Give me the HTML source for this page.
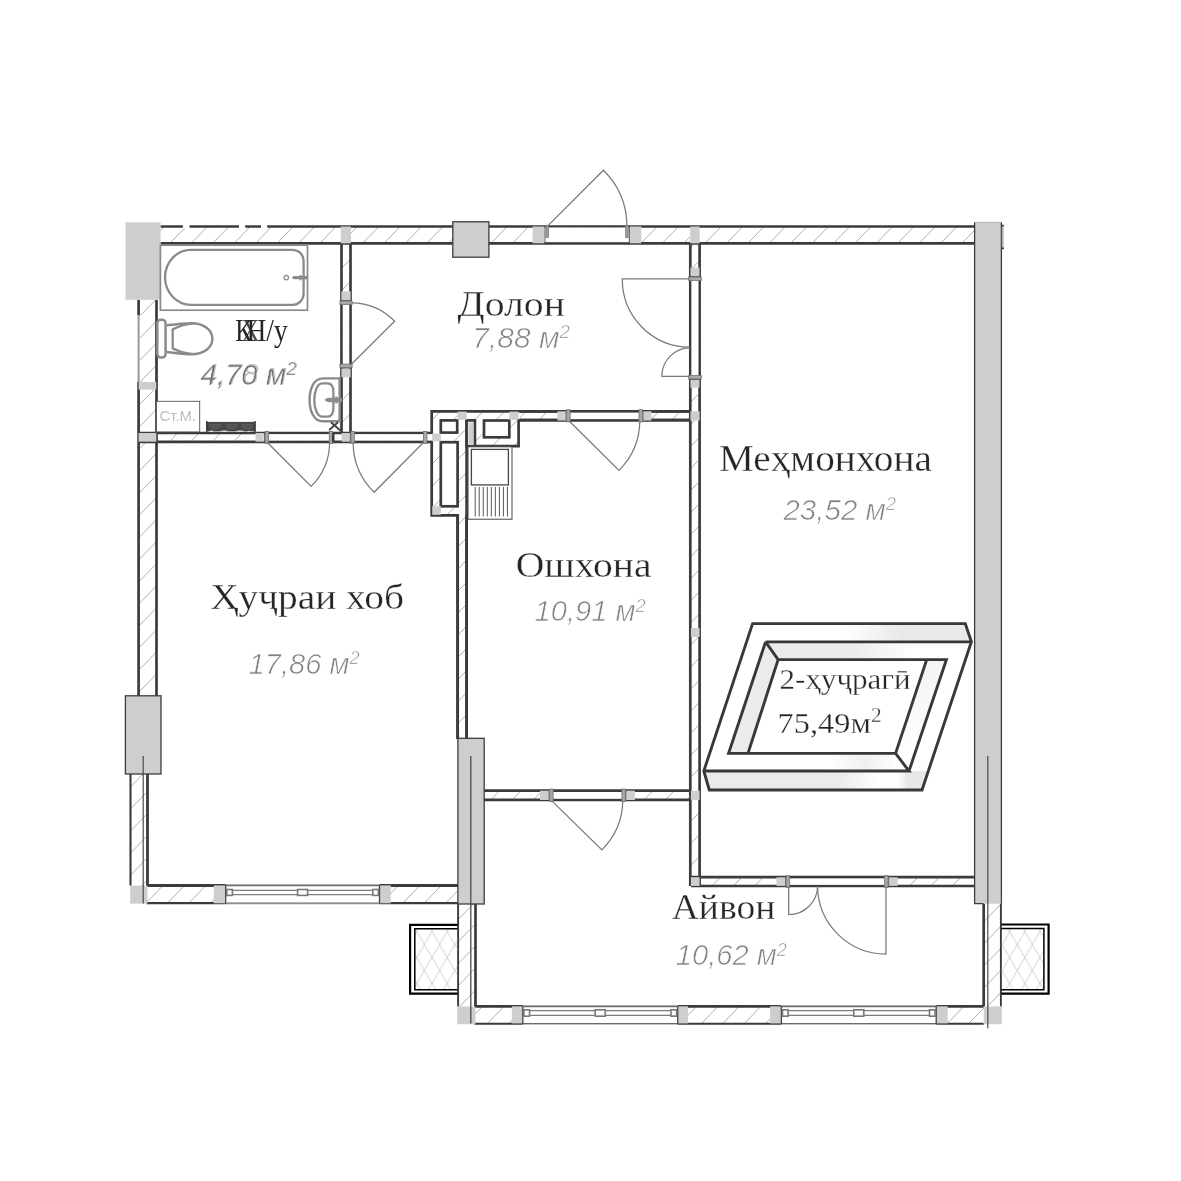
<!DOCTYPE html>
<html lang="tg"><head><meta charset="utf-8"><title>2-ҳуҷрагӣ 75,49 м²</title>
<style>
html,body{margin:0;padding:0;background:#fff}
body{width:1181px;height:1181px;overflow:hidden}
svg{display:block;filter:grayscale(1)}
.s{font-family:"Liberation Serif","DejaVu Serif",serif;fill:#262626;stroke:#fff;stroke-width:0.3px}
.a{font-family:"Liberation Sans","DejaVu Sans",sans-serif;font-style:italic;fill:#808080;stroke:#fff;stroke-width:0.7px}
</style></head><body>
<svg width="1181" height="1181" viewBox="0 0 1181 1181">
<defs>
<pattern id="dm" patternUnits="userSpaceOnUse" width="15.2" height="26" x="432" y="957.5">
<path d="M0 0L15.2 26M15.2 0L0 26" stroke="#bcbcbc" stroke-width="0.7" fill="none"/>
</pattern>
</defs>
<rect width="1181" height="1181" fill="#fff"/>

<path d="M160.5 231.0L164.8 226.5M169.9 243.3L186.2 226.5M191.3 243.3L207.6 226.5M212.7 243.3L229.0 226.5M234.2 243.3L250.4 226.5M255.6 243.3L271.9 226.5M277.0 243.3L293.3 226.5M298.4 243.3L314.7 226.5M319.8 243.3L336.1 226.5M341.2 243.3L357.5 226.5M362.6 243.3L378.9 226.5M384.0 243.3L400.3 226.5M405.4 243.3L421.7 226.5M426.8 243.3L443.1 226.5M448.2 243.3L464.5 226.5M469.6 243.3L485.9 226.5M491.0 243.3L507.3 226.5M512.4 243.3L528.7 226.5M533.8 243.3L550.1 226.5M555.2 243.3L571.5 226.5M576.7 243.3L592.9 226.5M598.1 243.3L614.4 226.5M619.5 243.3L635.8 226.5M640.9 243.3L657.2 226.5M662.3 243.3L678.6 226.5M683.7 243.3L700.0 226.5M705.1 243.3L721.4 226.5M726.5 243.3L742.8 226.5M747.9 243.3L764.2 226.5M769.3 243.3L785.6 226.5M790.7 243.3L807.0 226.5M812.1 243.3L828.4 226.5M833.5 243.3L849.8 226.5M854.9 243.3L871.2 226.5M876.3 243.3L892.6 226.5M897.7 243.3L914.0 226.5M919.2 243.3L935.5 226.5M940.6 243.3L956.9 226.5M962.0 243.3L974.5 230.4" stroke="#858585" stroke-width="0.65" fill="none"/>
<path d="M160.5 226.5H974.5" stroke="#3b3b3b" stroke-width="2.7" fill="none"/><path d="M160.5 243.3H974.5" stroke="#3b3b3b" stroke-width="2.7" fill="none"/>
<path d="M182.9 226.5H189.5M239 226.5H245.2M261 226.5H267.2" stroke="#fff" stroke-width="3.4"/>
<rect x="544.3" y="227.6" width="85.6" height="14.6" fill="#fff"/>
<path d="M544.9 226.5V243.3M629.3 226.5V243.3" stroke="#444" stroke-width="1" fill="none" />
<path d="M138.6 317.3L155.4 300.0M138.6 339.4L156.5 320.9M138.6 361.5L156.5 343.0M138.6 383.5L156.5 365.1M138.6 405.6L156.5 387.1M138.6 427.7L156.5 409.2M138.6 449.7L156.5 431.3M138.6 471.8L156.5 453.3M138.6 493.9L156.5 475.4M138.6 515.9L156.5 497.5M138.6 538.0L156.5 519.6M138.6 560.1L156.5 541.6M138.6 582.2L156.5 563.7M138.6 604.2L156.5 585.8M138.6 626.3L156.5 607.8M138.6 648.4L156.5 629.9M138.6 670.4L156.5 652.0M138.6 692.5L156.5 674.0" stroke="#858585" stroke-width="0.65" fill="none"/>
<path d="M138.6 300V696" stroke="#3b3b3b" stroke-width="2.7" fill="none"/><path d="M156.5 300V696" stroke="#3b3b3b" stroke-width="2.7" fill="none"/>
<path d="M138.6 315V382" stroke="#fff" stroke-width="3.2" fill="none" />
<path d="M138.6 315V382" stroke="#9c9c9c" stroke-width="2.1" fill="none" />
<path d="M341.5 246.4L344.5 243.3M341.5 268.5L350.5 259.2M341.5 290.6L350.5 281.3M341.5 312.7L350.5 303.4M341.5 334.7L350.5 325.4M341.5 356.8L350.5 347.5M341.5 378.9L350.5 369.6M341.5 400.9L350.5 391.7M341.5 423.0L350.5 413.7" stroke="#858585" stroke-width="0.65" fill="none"/>
<path d="M341.5 243.3V433" stroke="#3b3b3b" stroke-width="2.7" fill="none"/><path d="M350.5 243.3V433" stroke="#3b3b3b" stroke-width="2.7" fill="none"/>
<path d="M147.7 441.9L156.3 433.0M169.1 441.9L177.7 433.0M190.5 441.9L199.2 433.0M211.9 441.9L220.6 433.0M233.3 441.9L242.0 433.0M254.7 441.9L263.4 433.0M276.1 441.9L284.8 433.0M297.6 441.9L306.2 433.0M319.0 441.9L327.6 433.0M340.4 441.9L349.0 433.0M361.8 441.9L370.4 433.0M383.2 441.9L391.8 433.0M404.6 441.9L413.2 433.0M426.0 441.9L432.0 435.7" stroke="#858585" stroke-width="0.65" fill="none"/>
<path d="M138.6 433H432" stroke="#3b3b3b" stroke-width="2.7" fill="none"/><path d="M138.6 441.9H432" stroke="#3b3b3b" stroke-width="2.7" fill="none"/>
<path d="M690.3 248.1L694.9 243.3M690.3 270.1L699.6 260.6M690.3 292.2L699.6 282.6M690.3 314.3L699.6 304.7M690.3 336.4L699.6 326.8M690.3 358.4L699.6 348.8M690.3 380.5L699.6 370.9M690.3 402.6L699.6 393.0M690.3 424.6L699.6 415.0M690.3 446.7L699.6 437.1M690.3 468.8L699.6 459.2M690.3 490.8L699.6 481.3M690.3 512.9L699.6 503.3M690.3 535.0L699.6 525.4M690.3 557.1L699.6 547.5M690.3 579.1L699.6 569.5M690.3 601.2L699.6 591.6M690.3 623.3L699.6 613.7M690.3 645.3L699.6 635.7M690.3 667.4L699.6 657.8M690.3 689.5L699.6 679.9M690.3 711.5L699.6 702.0M690.3 733.6L699.6 724.0M690.3 755.7L699.6 746.1M690.3 777.8L699.6 768.2M690.3 799.8L699.6 790.2M690.3 821.9L699.6 812.3M690.3 844.0L699.6 834.4M690.3 866.0L699.6 856.4M692.3 886.0L699.6 878.5" stroke="#858585" stroke-width="0.65" fill="none"/>
<path d="M690.3 243.3V886" stroke="#3b3b3b" stroke-width="2.7" fill="none"/><path d="M699.6 243.3V886" stroke="#3b3b3b" stroke-width="2.7" fill="none"/>
<path d="M431.8 420.2L440.3 411.4M453.2 420.2L461.7 411.4M474.6 420.2L483.1 411.4M496.0 420.2L504.5 411.4M517.4 420.2L525.9 411.4M538.8 420.2L547.3 411.4" stroke="#858585" stroke-width="0.65" fill="none"/>
<path d="M651.5 419.0L658.9 411.4M671.7 420.2L680.3 411.4" stroke="#858585" stroke-width="0.65" fill="none"/>
<path d="M431.7 411.4H690" stroke="#3b3b3b" stroke-width="2.7" fill="none"/><path d="M431.7 420.2H690" stroke="#3b3b3b" stroke-width="2.7" fill="none"/>
<path d="M457.6 525.2L466.6 516.0M457.6 547.3L466.6 538.0M457.6 569.4L466.6 560.1M457.6 591.5L466.6 582.2M457.6 613.5L466.6 604.2M457.6 635.6L466.6 626.3M457.6 657.7L466.6 648.4M457.6 679.7L466.6 670.5M457.6 701.8L466.6 692.5M457.6 723.9L466.6 714.6M464.3 739.0L466.6 736.7" stroke="#858585" stroke-width="0.65" fill="none"/>
<path d="M457.6 515V739" stroke="#3b3b3b" stroke-width="2.7" fill="none"/><path d="M466.6 515V739" stroke="#3b3b3b" stroke-width="2.7" fill="none"/>
<path d="M490.7 799.9L499.6 790.7M512.1 799.9L521.0 790.7M533.5 799.9L540.0 793.2" stroke="#858585" stroke-width="0.65" fill="none"/>
<path d="M644.0 799.9L653.0 790.7M665.4 799.9L674.4 790.7M686.8 799.9L691.0 795.6" stroke="#858585" stroke-width="0.65" fill="none"/>
<path d="M484 790.7H691" stroke="#3b3b3b" stroke-width="2.7" fill="none"/><path d="M484 799.9H691" stroke="#3b3b3b" stroke-width="2.7" fill="none"/>
<path d="M711.8 886.0L720.4 877.2M733.2 886.0L741.8 877.2M754.6 886.0L763.2 877.2M776.1 886.0L776.5 885.5" stroke="#858585" stroke-width="0.65" fill="none"/>
<path d="M909.4 886.0L917.9 877.2M930.8 886.0L939.4 877.2M952.2 886.0L960.8 877.2M973.6 886.0L975.0 884.6" stroke="#858585" stroke-width="0.65" fill="none"/>
<path d="M691 877.2H975" stroke="#3b3b3b" stroke-width="2.7" fill="none"/><path d="M691 886H975" stroke="#3b3b3b" stroke-width="2.7" fill="none"/>
<path d="M146.2 902.9L163.0 885.5M167.4 903.1L184.5 885.5M188.8 903.1L205.9 885.5M210.2 903.1L227.3 885.5M231.6 903.1L248.7 885.5M253.0 903.1L270.1 885.5M274.4 903.1L291.5 885.5M295.8 903.1L312.9 885.5M317.2 903.1L334.3 885.5M338.6 903.1L355.7 885.5M360.0 903.1L377.1 885.5M381.4 903.1L398.5 885.5M402.9 903.1L419.9 885.5M424.3 903.1L441.3 885.5M445.7 903.1L458.0 890.4" stroke="#858585" stroke-width="0.65" fill="none"/>
<path d="M146.2 885.5H458" stroke="#3b3b3b" stroke-width="2.8" fill="none"/><path d="M146.2 903.1H458" stroke="#3b3b3b" stroke-width="2.1" fill="none"/>
<path d="M130.5 786.9L143.0 774.0M130.5 809.0L147.5 791.4M130.5 831.0L147.5 813.5M130.5 853.1L147.5 835.6M130.5 875.2L147.5 857.6M141.8 885.6L147.5 879.7" stroke="#858585" stroke-width="0.65" fill="none"/>
<path d="M130.5 774V885.6" stroke="#3b3b3b" stroke-width="2.1" fill="none"/><path d="M147.5 774V885.6" stroke="#3b3b3b" stroke-width="2.8" fill="none"/>
<path d="M458.1 919.6L473.5 903.8M458.1 941.7L475.5 923.8M458.1 963.8L475.5 945.8M458.1 985.8L475.5 967.9M459.5 1006.5L475.5 990.0" stroke="#858585" stroke-width="0.65" fill="none"/>
<path d="M458.1 903.8V1006.5" stroke="#3b3b3b" stroke-width="1.9" fill="none"/><path d="M475.5 903.8V1006.5" stroke="#3b3b3b" stroke-width="2.7" fill="none"/>
<path d="M474.2 1015.0L482.6 1006.4M487.2 1023.7L504.0 1006.4M508.6 1023.7L525.4 1006.4M530.0 1023.7L546.8 1006.4M551.4 1023.7L568.2 1006.4M572.8 1023.7L589.6 1006.4M594.2 1023.7L611.0 1006.4M615.6 1023.7L632.4 1006.4M637.0 1023.7L653.8 1006.4M658.4 1023.7L675.2 1006.4M679.9 1023.7L696.6 1006.4M701.3 1023.7L718.0 1006.4M722.7 1023.7L739.4 1006.4M744.1 1023.7L760.9 1006.4M765.5 1023.7L782.3 1006.4M786.9 1023.7L803.7 1006.4M808.3 1023.7L825.1 1006.4M829.7 1023.7L846.5 1006.4M851.1 1023.7L867.9 1006.4M872.5 1023.7L889.3 1006.4M893.9 1023.7L910.7 1006.4M915.3 1023.7L932.1 1006.4M936.7 1023.7L947.0 1013.1" stroke="#858585" stroke-width="0.65" fill="none"/>
<path d="M474.2 1006.4H947" stroke="#3b3b3b" stroke-width="2.7" fill="none"/><path d="M474.2 1023.7H947" stroke="#3b3b3b" stroke-width="1.9" fill="none"/>
<path d="M947.1 1023.7L963.9 1006.4M968.5 1023.7L983.8 1008.0" stroke="#858585" stroke-width="0.65" fill="none"/>
<path d="M947 1006.4H983.8" stroke="#3b3b3b" stroke-width="2.7" fill="none"/><path d="M947 1023.7H983.8" stroke="#3b3b3b" stroke-width="1.9" fill="none"/>
<path d="M983.7 921.9L1000.9 904.2M983.7 944.0L1000.9 926.2M983.7 966.0L1000.9 948.3M983.7 988.1L1000.9 970.4M987.3 1006.5L1000.9 992.5" stroke="#858585" stroke-width="0.65" fill="none"/>
<path d="M983.7 903.5V1006.5" stroke="#3b3b3b" stroke-width="2.7" fill="none"/><path d="M1000.9 903.5V1006.5" stroke="#3b3b3b" stroke-width="1.9" fill="none"/>
<path d="M431.7 411.3H520V446.2H466.6V515.3H431.7Z" fill="#fff"/>
<path d="M431.7 420.3L440.4 411.3M431.7 442.3L461.8 411.3M449.4 446.2L483.2 411.3M470.8 446.2L504.6 411.3M492.2 446.2L518.6 419.0M513.6 446.2L518.6 441.0" stroke="#858585" stroke-width="0.65" fill="none"/>
<path d="M431.7 464.4L449.4 446.2M431.7 486.5L466.6 450.5M431.7 508.6L466.6 472.6M446.6 515.3L466.6 494.6" stroke="#858585" stroke-width="0.65" fill="none"/>
<path d="M690 411.4H431.7V515.3H457.7V739" stroke="#3b3b3b" stroke-width="2.7" fill="none" />
<path d="M690 420.2H518.6V446.2H474.9" stroke="#3b3b3b" stroke-width="2.7" fill="none" />
<path d="M466.6 419.3V739" stroke="#3b3b3b" stroke-width="2.7" fill="none" />
<rect x="466.6" y="420.4" width="8.3" height="25.8" fill="#fff" stroke="#3b3b3b" stroke-width="2.7"/>
<rect x="468.4" y="422.6" width="4.90" height="22.00" fill="#cecece"/>
<rect x="440.8" y="420.4" width="16.40" height="12.20" fill="#fff" stroke="#3b3b3b" stroke-width="2.7"/>
<rect x="440.8" y="442.2" width="16.80" height="64.10" fill="#fff" stroke="#3b3b3b" stroke-width="2.7"/>
<rect x="484.0" y="420.5" width="25.30" height="16.80" fill="#fff" stroke="#3b3b3b" stroke-width="2.7"/>
<rect x="430.4" y="434.1" width="2.60" height="6.50" fill="#fff"/>
<rect x="340.8" y="226.5" width="10.20" height="16.80" fill="#cecece"/>
<rect x="532.6" y="226.5" width="11.70" height="16.80" fill="#cecece"/>
<rect x="629.9" y="226.5" width="11.40" height="16.80" fill="#cecece"/>
<rect x="690.2" y="226.5" width="9.50" height="16.80" fill="#cecece"/>
<rect x="138.6" y="382" width="17.70" height="7.60" fill="#cecece"/>
<rect x="138.6" y="433" width="17.70" height="8.70" fill="#cecece"/>
<rect x="255.5" y="433" width="8.30" height="8.70" fill="#cecece"/>
<rect x="341.6" y="433" width="8.80" height="8.70" fill="#cecece"/>
<rect x="341.4" y="291.2" width="9.20" height="8.80" fill="#cecece"/>
<rect x="341.4" y="368.5" width="9.20" height="8.80" fill="#cecece"/>
<rect x="690.4" y="267.6" width="9.10" height="8.20" fill="#cecece"/>
<rect x="690.4" y="379.5" width="9.10" height="8.20" fill="#cecece"/>
<rect x="690.4" y="411.3" width="9.30" height="9.20" fill="#cecece"/>
<rect x="457.6" y="411.6" width="9.10" height="8.20" fill="#cecece"/>
<rect x="509.4" y="411.6" width="9.20" height="8.20" fill="#cecece"/>
<rect x="432.2" y="433.5" width="8.60" height="7.70" fill="#cecece"/>
<rect x="432.2" y="506.2" width="8.60" height="8.60" fill="#cecece"/>
<rect x="557.5" y="411.3" width="8.90" height="9.20" fill="#cecece"/>
<rect x="642.6" y="411.3" width="8.90" height="9.20" fill="#cecece"/>
<rect x="690.9" y="628" width="8.70" height="9.00" fill="#cecece"/>
<rect x="690.9" y="790.7" width="8.70" height="9.20" fill="#cecece"/>
<rect x="540" y="790.7" width="9.00" height="9.30" fill="#cecece"/>
<rect x="626" y="790.7" width="8.90" height="9.30" fill="#cecece"/>
<rect x="690.9" y="877.2" width="8.70" height="8.70" fill="#cecece"/>
<rect x="776.5" y="877.3" width="9.10" height="8.60" fill="#cecece"/>
<rect x="888.7" y="877.3" width="8.90" height="8.60" fill="#cecece"/>
<rect x="130.2" y="885.6" width="17.30" height="18.00" fill="#cecece"/>
<rect x="213.8" y="885.4" width="11.40" height="17.90" fill="#cecece"/>
<rect x="379.4" y="885.4" width="11.40" height="17.90" fill="#cecece"/>
<rect x="457.2" y="1006.5" width="18.20" height="17.70" fill="#cecece"/>
<rect x="511.9" y="1006.3" width="10.60" height="17.10" fill="#cecece"/>
<rect x="678" y="1006.3" width="10.00" height="17.10" fill="#cecece"/>
<rect x="770.1" y="1006.3" width="11.00" height="17.10" fill="#cecece"/>
<rect x="936.5" y="1006.3" width="11.20" height="17.10" fill="#cecece"/>
<rect x="983.7" y="1006.5" width="18.10" height="17.70" fill="#cecece"/>
<rect x="125.6" y="222.3" width="34.90" height="77.50" fill="#cecece"/>
<rect x="452.8" y="221.8" width="36.10" height="35.40" fill="#cecece" stroke="#3c3c3c" stroke-width="1.3"/>
<rect x="974.5" y="222.3" width="27.00" height="681.40" fill="#cecece"/>
<path d="M974.6 222.3V903.7H983.6M1001.4 222.3V903.7" stroke="#3c3c3c" stroke-width="1.3" fill="none" />
<path d="M974.5 222.4H1001.5" stroke="#aaa" stroke-width="0.8" fill="none" />
<rect x="1001.8" y="225" width="1.8" height="24" fill="#b0b0b0"/><path d="M1001.8 225.6H1003.8M1001.8 248.4H1003.8" stroke="#333" stroke-width="1.6"/>
<rect x="125.4" y="695.8" width="35.60" height="78.20" fill="#cecece" stroke="#3c3c3c" stroke-width="1.3"/>
<rect x="457.9" y="738.3" width="26.30" height="165.70" fill="#cecece" stroke="#3c3c3c" stroke-width="1.3"/>
<path d="M143.2 756V903.5" stroke="#4a4a4a" stroke-width="1.2" fill="none" />
<path d="M470.8 756V1023.5" stroke="#4a4a4a" stroke-width="1.3" fill="none" />
<path d="M987.8 756V1028.5" stroke="#4a4a4a" stroke-width="1.2" fill="none" />
<rect x="160.4" y="245.2" width="147.1" height="65" fill="#fff" stroke="#8a8a8a" stroke-width="1.7"/>
<path d="M191 249.8H292.6A11 11 0 0 1 303.6 260.8V293.8A11 11 0 0 1 292.6 304.8H191A26 27.5 0 0 1 191 249.8Z" fill="none" stroke="#8a8a8a" stroke-width="2.3"/>
<circle cx="286.3" cy="277.6" r="2.2" fill="none" stroke="#8a8a8a" stroke-width="1.3"/>
<path d="M294 277.6H306.5" stroke="#8a8a8a" stroke-width="3.4" stroke-linecap="round"/><path d="M300.5 275V280.3" stroke="#8a8a8a" stroke-width="2"/>
<rect x="157.3" y="319.7" width="8.3" height="37.8" rx="3.4" fill="#fff" stroke="#8a8a8a" stroke-width="2.5"/>
<path d="M166.9 325.3C176 324.2 185 323.2 191.5 323.2C204 323.2 212.4 330 212.4 338.8C212.4 347.5 204 354.3 191.5 354.3C185 354.3 176 353.2 166.9 352" fill="none" stroke="#8a8a8a" stroke-width="2.4"/>
<path d="M193 323.4C185 324 178 326.8 172.7 329.4V348.4C178 351 185 353.7 193 354.1" fill="none" stroke="#8a8a8a" stroke-width="2.3" stroke-linejoin="round"/>
<path d="M339.6 378.4H323C313 378.4 309.6 390 309.6 399.9C309.6 409.6 313 421.3 323 421.3H339.6Z" fill="#fff" stroke="#8a8a8a" stroke-width="2.4"/>
<path d="M326 383.4H322.5C316.6 383.4 314.3 393 314.3 400C314.3 407 316.6 416.7 322.5 416.7H327.5C331.5 416.7 333.4 413 333.4 408V392C333.4 387 331.5 383.4 327.5 383.4Z" fill="none" stroke="#8a8a8a" stroke-width="2.3"/>
<path d="M325.2 399.9L328 398.3H341.5V401.6H328Z" fill="#8a8a8a" stroke="#8a8a8a" stroke-width="1.2" stroke-linejoin="round"/><path d="M336.4 396.6V403.4" stroke="#8a8a8a" stroke-width="2"/>
<path d="M329.2 430L338 422.3M331 422.3L340.6 430.8" stroke="#444" stroke-width="1.9" fill="none" />
<rect x="156.4" y="401.3" width="43.3" height="30.6" fill="#fff" stroke="#555" stroke-width="0.9"/>
<text x="159.6" y="420.6" font-family="Liberation Sans,DejaVu Sans,sans-serif" font-size="13.8" fill="#bdbdbd" textLength="36.4" lengthAdjust="spacingAndGlyphs">Ст.М.</text>
<rect x="206.3" y="421.9" width="49.2" height="9.4" fill="#474747"/>
<path d="M209 424.4H221.5M225.5 424.4H237.5M241.5 424.4H253M209 426.5H221.5M225.5 426.5H237.5M241.5 426.5H253M211 428.4H219M227 428.4H236M243 428.4H252" stroke="#6e6e6e" stroke-width="0.7" fill="none" />
<path d="M209 431.6Q211.5 429.2 214 431.6ZM219.5 431.6Q224 429.6 229 431.6ZM235 431.6Q240 429.6 245 431.6ZM247 431.6Q249 430 251 431.6Z" fill="#fff"/>
<path d="M206.8 421V432M255 421V432" stroke="#3a3a3a" stroke-width="1.4" fill="none" />
<rect x="468" y="446.8" width="44" height="72.4" fill="#fff" stroke="#444" stroke-width="1"/>
<rect x="471.4" y="449.4" width="37" height="35.5" fill="#fff" stroke="#444" stroke-width="1.3"/>
<path d="M475.20 487V516.4M479.23 487V516.4M483.26 487V516.4M487.29 487V516.4M491.32 487V516.4M495.35 487V516.4M499.38 487V516.4M503.41 487V516.4M507.44 487V516.4" stroke="#444" stroke-width="0.9" fill="none" />
<rect x="545.9" y="225.3" width="2.6" height="12.2" fill="#9a9a9a" stroke="#777" stroke-width="0.7"/><rect x="625.6" y="225.3" width="2.6" height="12.2" fill="#9a9a9a" stroke="#777" stroke-width="0.7"/>
<path d="M548 225.6L603.4 170.2A78.6 78.6 0 0 1 626.9 225.6" stroke="#7a7a7a" stroke-width="1.25" fill="none" />
<rect x="342.85" y="300" width="6.30" height="68.50" fill="#fff"/>
<path d="M341.5 300.50H350.5" stroke="#444" stroke-width="0.9" fill="none" />
<rect x="339.90" y="301.00" width="12.20" height="3.4" fill="#a8a8a8" stroke="#777" stroke-width="0.9"/>
<path d="M341.5 368.00H350.5" stroke="#444" stroke-width="0.9" fill="none" />
<rect x="339.90" y="364.10" width="12.20" height="3.4" fill="#a8a8a8" stroke="#777" stroke-width="0.9"/>
<path d="M351.7 364L394.6 321.2A60.8 60.8 0 0 0 351.7 302.8" stroke="#7a7a7a" stroke-width="1.25" fill="none" />
<rect x="691.5500000000001" y="276" width="6.80" height="103.50" fill="#fff"/>
<path d="M690.2 276.50H699.7" stroke="#444" stroke-width="0.9" fill="none" />
<rect x="688.60" y="277.00" width="12.70" height="3.4" fill="#a8a8a8" stroke="#777" stroke-width="0.9"/>
<path d="M690.2 379.50H699.7" stroke="#444" stroke-width="0.9" fill="none" />
<rect x="688.60" y="375.60" width="12.70" height="3.4" fill="#a8a8a8" stroke="#777" stroke-width="0.9"/>
<path d="M689.6 278.8L622.3 278.8A67.8 67.8 0 0 0 689.6 347.2" stroke="#7a7a7a" stroke-width="1.25" fill="none" />
<path d="M689.6 376.3L661.9 376.3A28.2 28.2 0 0 1 689.6 347.8" stroke="#7a7a7a" stroke-width="1.25" fill="none" />
<rect x="263.8" y="434.35" width="70.20" height="6.00" fill="#fff"/>
<path d="M264.60 433V441.9" stroke="#444" stroke-width="0.9" fill="none" />
<rect x="265.10" y="431.40" width="3.4" height="12.10" fill="#a8a8a8" stroke="#777" stroke-width="0.9"/>
<rect x="329.30" y="431.40" width="3.4" height="12.10" fill="#a8a8a8" stroke="#777" stroke-width="0.9"/>
<path d="M267.1 442.3L311.2 486.4A62.5 62.5 0 0 0 329.6 442.3" stroke="#7a7a7a" stroke-width="1.25" fill="none" />
<path d="M333.2 433V441.9" stroke="#3b3b3b" stroke-width="2.6" fill="none" />
<rect x="350.4" y="434.35" width="80.60" height="6.00" fill="#fff"/>
<path d="M350.40 433V441.9" stroke="#444" stroke-width="0.9" fill="none" />
<rect x="350.90" y="431.40" width="3.4" height="12.10" fill="#a8a8a8" stroke="#777" stroke-width="0.9"/>
<rect x="423.50" y="431.40" width="3.4" height="12.10" fill="#a8a8a8" stroke="#777" stroke-width="0.9"/>
<path d="M423.7 442.3L374.1 492.3A70.5 70.5 0 0 1 353.1 442.3" stroke="#7a7a7a" stroke-width="1.25" fill="none" />
<rect x="566.4" y="412.65000000000003" width="76.20" height="6.50" fill="#fff"/>
<path d="M566.20 411.3V420.3" stroke="#444" stroke-width="0.9" fill="none" />
<rect x="566.70" y="409.70" width="3.4" height="12.20" fill="#a8a8a8" stroke="#777" stroke-width="0.9"/>
<path d="M642.90 411.3V420.3" stroke="#444" stroke-width="0.9" fill="none" />
<rect x="639.00" y="409.70" width="3.4" height="12.20" fill="#a8a8a8" stroke="#777" stroke-width="0.9"/>
<path d="M568.9 420.8L619 470.4A70.8 70.8 0 0 0 639.8 420.8" stroke="#7a7a7a" stroke-width="1.25" fill="none" />
<rect x="549" y="792.0500000000001" width="77.00" height="6.60" fill="#fff"/>
<path d="M549.20 790.7V800" stroke="#444" stroke-width="0.9" fill="none" />
<rect x="549.70" y="789.10" width="3.4" height="12.50" fill="#a8a8a8" stroke="#777" stroke-width="0.9"/>
<path d="M625.80 790.7V800" stroke="#444" stroke-width="0.9" fill="none" />
<rect x="621.90" y="789.10" width="3.4" height="12.50" fill="#a8a8a8" stroke="#777" stroke-width="0.9"/>
<path d="M551.6 800.6L601.9 849.9A70.9 70.9 0 0 0 622.8 800.6" stroke="#7a7a7a" stroke-width="1.25" fill="none" />
<rect x="785.6" y="878.65" width="103.00" height="5.90" fill="#fff"/>
<path d="M785.70 877.3V885.9" stroke="#444" stroke-width="0.9" fill="none" />
<rect x="786.20" y="875.70" width="3.4" height="11.80" fill="#a8a8a8" stroke="#777" stroke-width="0.9"/>
<path d="M888.60 877.3V885.9" stroke="#444" stroke-width="0.9" fill="none" />
<rect x="884.70" y="875.70" width="3.4" height="11.80" fill="#a8a8a8" stroke="#777" stroke-width="0.9"/>
<path d="M788.7 886L788.7 914.7A28.9 28.9 0 0 0 817.6 886" stroke="#7a7a7a" stroke-width="1.25" fill="none" />
<path d="M886 886L886 954A68.3 68.3 0 0 1 817.6 886" stroke="#7a7a7a" stroke-width="1.25" fill="none" />
<rect x="225.4" y="884.4" width="154.40" height="20.00" fill="#fff"/>
<path d="M225.4 885.6H379.8M225.4 903.2H379.8" stroke="#6a6a6a" stroke-width="1.3" fill="none" />
<path d="M225.4 890.3H379.8M225.4 894.6H379.8" stroke="#7c7c7c" stroke-width="1.2" fill="none" />
<path d="M225.70000000000002 885.0V903.8000000000001M379.5 885.0V903.8000000000001" stroke="#444" stroke-width="1.3" fill="none" />
<rect x="226.80" y="889.50" width="5.60" height="5.90" fill="#fff" stroke="#787878" stroke-width="1.6"/>
<rect x="297.60" y="889.50" width="10.00" height="5.90" fill="#fff" stroke="#787878" stroke-width="1.6"/>
<rect x="372.80" y="889.50" width="5.60" height="5.90" fill="#fff" stroke="#787878" stroke-width="1.6"/>
<rect x="522.5" y="1005.3" width="155.50" height="19.50" fill="#fff"/>
<path d="M522.5 1006.5H678M522.5 1023.6H678" stroke="#6a6a6a" stroke-width="1.3" fill="none" />
<path d="M522.5 1010.6H678M522.5 1015.4H678" stroke="#7c7c7c" stroke-width="1.2" fill="none" />
<path d="M522.8 1005.9V1024.2M677.7 1005.9V1024.2" stroke="#444" stroke-width="1.3" fill="none" />
<rect x="523.90" y="1009.80" width="5.60" height="6.40" fill="#fff" stroke="#787878" stroke-width="1.6"/>
<rect x="595.25" y="1009.80" width="10.00" height="6.40" fill="#fff" stroke="#787878" stroke-width="1.6"/>
<rect x="671.00" y="1009.80" width="5.60" height="6.40" fill="#fff" stroke="#787878" stroke-width="1.6"/>
<rect x="781.1" y="1005.3" width="155.40" height="19.50" fill="#fff"/>
<path d="M781.1 1006.5H936.5M781.1 1023.6H936.5" stroke="#6a6a6a" stroke-width="1.3" fill="none" />
<path d="M781.1 1010.6H936.5M781.1 1015.4H936.5" stroke="#7c7c7c" stroke-width="1.2" fill="none" />
<path d="M781.4 1005.9V1024.2M936.2 1005.9V1024.2" stroke="#444" stroke-width="1.3" fill="none" />
<rect x="782.50" y="1009.80" width="5.60" height="6.40" fill="#fff" stroke="#787878" stroke-width="1.6"/>
<rect x="853.80" y="1009.80" width="10.00" height="6.40" fill="#fff" stroke="#787878" stroke-width="1.6"/>
<rect x="929.50" y="1009.80" width="5.60" height="6.40" fill="#fff" stroke="#787878" stroke-width="1.6"/>
<rect x="414.8" y="928.8" width="42.8" height="60.90000000000005" fill="url(#dm)"/>
<path d="M457.6 924.9H410.1V993.6H457.6" stroke="#000" stroke-width="2.2" fill="none" />
<path d="M457.6 928.8H414.8V989.7H457.6" stroke="#000" stroke-width="1.5" fill="none" />
<rect x="1001.4" y="928.4" width="42.49999999999993" height="61.300000000000026" fill="url(#dm)"/>
<path d="M1001.4 924.5H1048.6V993.6H1001.4" stroke="#000" stroke-width="2.2" fill="none" />
<path d="M1001.4 928.4H1043.8999999999999V989.7H1001.4" stroke="#000" stroke-width="1.5" fill="none" />
<linearGradient id="ga" gradientUnits="userSpaceOnUse" x1="842" x2="902" y1="0" y2="0"><stop offset="0" stop-color="#fff"/><stop offset="1" stop-color="#e9e9e9"/></linearGradient>
<linearGradient id="gb" gradientUnits="userSpaceOnUse" x1="850" x2="915" y1="0" y2="0"><stop offset="0" stop-color="#ebebeb"/><stop offset="1" stop-color="#fff"/></linearGradient>
<linearGradient id="gc" gradientUnits="userSpaceOnUse" x1="838" x2="925" y1="0" y2="0"><stop offset="0" stop-color="#ebebeb"/><stop offset="0.5" stop-color="#fff"/><stop offset="0.68" stop-color="#fff"/><stop offset="0.8" stop-color="#e8e8e8"/><stop offset="1" stop-color="#e8e8e8"/></linearGradient>
<linearGradient id="gd" gradientUnits="userSpaceOnUse" x1="830" x2="900" y1="0" y2="0"><stop offset="0" stop-color="#fff"/><stop offset="0.5" stop-color="#f0f0f0"/><stop offset="1" stop-color="#fff"/></linearGradient>
<linearGradient id="ge" gradientUnits="userSpaceOnUse" x1="0" x2="0" y1="660" y2="760"><stop offset="0" stop-color="#f3f3f3"/><stop offset="1" stop-color="#fff"/></linearGradient>
<path d="M752.6 623.6H965.3L971.4 641.7L922 790H709.3L703.8 771Z" fill="#fff"/>
<path d="M752.6 623.6H965.3L971.4 641.7H746.6Z" fill="url(#ga)"/>
<path d="M765.6 641.9H971.4L965.4 659.6H778.1Z" fill="url(#gb)"/>
<path d="M765.6 641.9L778.1 659.6L748 753.4H728.6Z" fill="#ebebeb"/>
<path d="M926.7 659.6H946.4L909 771L895.6 753.4Z" fill="url(#ge)"/>
<path d="M728.6 753.4H895.6L909 771H703.8L709.7 753.4Z" fill="url(#gd)"/>
<path d="M703.8 771H928.4L922 790H709.3Z" fill="url(#gc)"/>
<path d="M778.1 659.6H926.7L895.6 753.4H748Z" fill="#fff"/>
<path d="M752.6 623.6H965.3L971.4 641.7L922 790H709.3L703.8 771Z" stroke="#383838" stroke-width="2.9" fill="none" stroke-linejoin="miter"/>
<path d="M765.6 641.9H971.4M765.6 641.9L728.6 753.4H895.6L909 771H703.8M765.6 641.9L778.1 659.6H946.4L909 771M778.1 659.6L748 753.4M926.7 659.6L895.6 753.4" stroke="#383838" stroke-width="2.9" fill="none" stroke-linejoin="miter"/>
<text class="s" x="457.6" y="315.6" font-size="35.3" textLength="107.4" lengthAdjust="spacingAndGlyphs" >Долон</text>
<text class="a" x="472.2" y="348" font-size="30.3" textLength="97.8" lengthAdjust="spacingAndGlyphs" >7,88 м<tspan dy="-9.7" font-size="19.1">2</tspan></text>
<text class="s" x="515.8" y="576.9" font-size="35" textLength="135.8" lengthAdjust="spacingAndGlyphs" >Ошхона</text>
<text class="a" x="534.6" y="621.3" font-size="30.3" textLength="111.2" lengthAdjust="spacingAndGlyphs" >10,91 м<tspan dy="-9.7" font-size="19.1">2</tspan></text>
<text class="s" x="210.2" y="608.5" font-size="35.5" textLength="193.8" lengthAdjust="spacingAndGlyphs" >Ҳуҷраи хоб</text>
<text class="a" x="248.6" y="674" font-size="30.3" textLength="111.2" lengthAdjust="spacingAndGlyphs" >17,86 м<tspan dy="-9.7" font-size="19.1">2</tspan></text>
<text class="s" x="719" y="470.8" font-size="38.3" textLength="212.8" lengthAdjust="spacingAndGlyphs" >Меҳмонхона</text>
<text class="a" x="783.4" y="519.5" font-size="30.3" textLength="112.8" lengthAdjust="spacingAndGlyphs" >23,52 м<tspan dy="-9.7" font-size="19.1">2</tspan></text>
<text class="s" x="671.7" y="919.4" font-size="36.4" textLength="103.6" lengthAdjust="spacingAndGlyphs" >Айвон</text>
<text class="a" x="675.8" y="965.3" font-size="30.3" textLength="111.2" lengthAdjust="spacingAndGlyphs" >10,62 м<tspan dy="-9.7" font-size="19.1">2</tspan></text>
<text class="s" x="246.5" y="341" font-size="31" textLength="41.1" lengthAdjust="spacingAndGlyphs" style="stroke:none">Н/у</text>
<text class="s" x="235.2" y="341" font-size="31" textLength="16.8" lengthAdjust="spacingAndGlyphs" style="stroke:none">К</text>
<text class="s" x="241.5" y="341" font-size="31" textLength="18.0" lengthAdjust="spacingAndGlyphs" style="stroke:none" opacity="0.8">Х</text>
<text class="a" x="200.2" y="384.9" font-size="30" textLength="96.0" lengthAdjust="spacingAndGlyphs" style="fill:#6e6e6e">4,70 м<tspan dy="-9.6" font-size="18.9">2</tspan></text>
<text class="a" x="201.6" y="384.3" font-size="30" textLength="95.6" lengthAdjust="spacingAndGlyphs" style="fill:#6e6e6e;stroke:none" opacity="0.4">4,78 м<tspan dy="-9.6" font-size="18.9">2</tspan></text>
<text class="s" x="779.6" y="689.3" font-size="28.8" textLength="131.0" lengthAdjust="spacingAndGlyphs" >2-ҳуҷрагӣ</text>
<text class="s" x="777.6" y="732.7" font-size="30.3" textLength="104.0" lengthAdjust="spacingAndGlyphs" >75,49м<tspan dy="-10.5" font-size="20">2</tspan></text>
</svg>
</body></html>
